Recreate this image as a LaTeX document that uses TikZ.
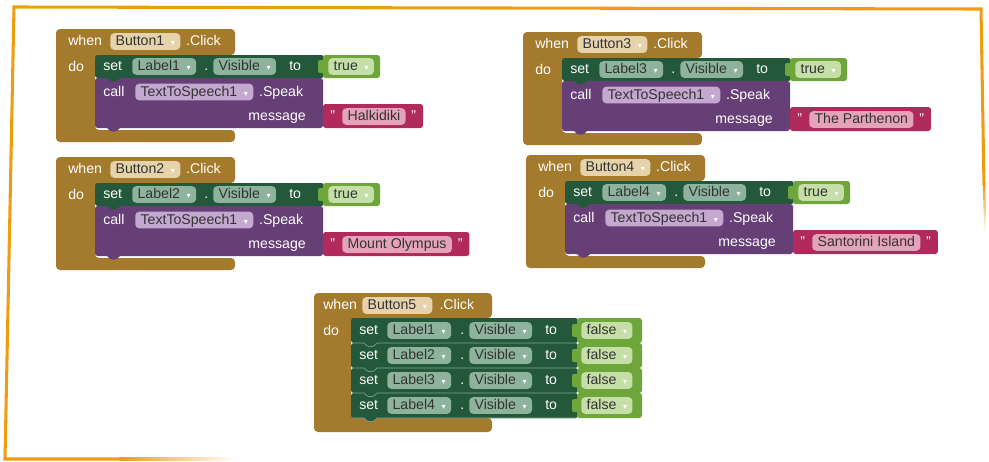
\documentclass[tikz,border=0pt]{standalone}
\usepackage{fontspec}
\setmainfont{Liberation Sans}
\newfontfamily\symfont{DejaVu Sans}
\usetikzlibrary{positioning,backgrounds}

\definecolor{evtbrown}{HTML}{A47A2C}
\definecolor{setgreen}{HTML}{23593A}
\definecolor{logicgreen}{HTML}{6FA63C}
\definecolor{callpurple}{HTML}{673F77}
\definecolor{textred}{HTML}{B02A5C}
\definecolor{ddtan}{HTML}{E6D3AC}
\definecolor{ddgreen}{HTML}{8EB39D}
\definecolor{ddlight}{HTML}{C6DFA9}
\definecolor{ddpurple}{HTML}{C4A8D0}
\definecolor{ddpink}{HTML}{E4A3B8}
\definecolor{frameor}{HTML}{EE9C12}

\newcommand\blockfont{\fontsize{10.6}{12}\selectfont}
\newcommand\ddarrow{\hspace{5pt}{\symfont\fontsize{6}{6}\selectfont\color{white}▾}}

\tikzset{
  wtxt/.style={text=white, font=\blockfont, inner sep=0pt, anchor=west,
    text height=7.6pt, text depth=1pt},
  dd/.style={rounded corners=3pt, inner ysep=0pt, inner xsep=4pt, anchor=west,
    minimum height=12.5pt, text height=7.6pt, text depth=1pt,
    text=black!80, font=\blockfont},
}

\begin{document}
\begin{tikzpicture}[x=0.75pt,y=-0.75pt]
\useasboundingbox (0,0) rectangle (989,461);

%frame
\draw[frameor, line width=2.3pt] (120,459) -- (5,459) -- (14,7) -- (981,9) -- (984,185);
\shade[left color=frameor, right color=white] (119,457.5) rectangle (235,460.5);
\shade[top color=frameor, bottom color=white] (982.8,184) -- (985.2,184) -- (986.5,232) -- (984.1,232) -- cycle;

%speak blocks
\foreach \bx/\by/\n/\msg in {56/29/1/Halkidiki,56/157/2/Mount Olympus,523/32/3/The Parthenon,526/155/4/Santorini Island}{
\begin{scope}[shift={(\bx,\by)}]
\fill[evtbrown, rounded corners=3pt] (0,0) -- (179,0) -- (179,26) -- (39,26) -- (39,101) -- (179,101) -- (179,113) -- (0,113) -- cycle;
\node[wtxt] (when\n) at (12,12.5) {when};
\node[dd, fill=ddtan] (btn\n) at (54,12.5) {Button\n\ddarrow};
\node[wtxt, right=4pt of btn\n] (clk\n) {.Click};
\node[wtxt] (do\n) at (12,38) {do};
%set row
\fill[setgreen, rounded corners=2pt] (39,26) rectangle (268,49);
\fill[logicgreen, rounded corners=2pt] (267,26) rectangle (324,49);
\fill[logicgreen, rounded corners=1.5pt] (262,31) rectangle (269,44);
\node[wtxt] (set\n) at (47,37.5) {set};
\node[dd, fill=ddgreen] (lbl\n) at (76,37.5) {Label\n\ddarrow};
\node[wtxt] (dot\n) at (148,37.5) {.};
\node[dd, fill=ddgreen] (vis\n) at (157,37.5) {Visible\ddarrow};
\node[wtxt] (to\n) at (233,37.5) {to};
\node[dd, fill=ddlight] (val\n) at (272,37.5) {true\ddarrow};
%call row
\fill[callpurple, rounded corners=2pt] (39,49) rectangle (267,99);
\fill[callpurple] (51,98) -- (51,99) .. controls (54,104) and (61,104) .. (64,99) -- (64,98) -- cycle;
\fill[setgreen] (51,48) -- (51,49) .. controls (54,54) and (61,54) .. (64,49) -- (64,48) -- cycle;
\node[wtxt] (call\n) at (47,63) {call};
\node[dd, fill=ddpurple] (tts\n) at (79,63) {TextToSpeech1\ddarrow};
\node[wtxt, right=4pt of tts\n] (spk\n) {.Speak};
\node[wtxt, anchor=east] (msgl\n) at (250,87.5) {message};
\node[wtxt] (q1\n) at (274,87) {"};
\node[dd, fill=ddpink] (msg\n) at (286,87.5) {\msg};
\node[wtxt, right=4pt of msg\n] (q2\n) {"};
\begin{pgfonlayer}{background}
\fill[textred, rounded corners=2pt] (267,75) rectangle ([xshift=5pt]q2\n.east |- 0,99);
\fill[textred, rounded corners=1.5pt] (262,80) rectangle (269,94);
\end{pgfonlayer}
\end{scope}
}

%Button5
\begin{scope}[shift={(314,293)}]
\fill[evtbrown, rounded corners=3pt] (0,0) -- (178,0) -- (178,25) -- (37,25) -- (37,125) -- (178,125) -- (178,139) -- (0,139) -- cycle;
\node[wtxt] (when5) at (9,12.5) {when};
\node[dd, fill=ddtan] (btn5) at (48,12.5) {Button5\ddarrow};
\node[wtxt, right=5pt of btn5] (clk5) {.Click};
\node[wtxt] (do5) at (9,38) {do};
\foreach \r/\ty in {1/25,2/50,3/75,4/100}{
  \fill[setgreen, rounded corners=2pt] (37,\ty) rectangle (264,\ty+25);
  \fill[logicgreen, rounded corners=2pt] (263,\ty) rectangle (328,\ty+25);
  \fill[logicgreen, rounded corners=1.5pt] (258,\ty+6) rectangle (265,\ty+19);
  \node[wtxt] (set5\r) at (45,\ty+12.5) {set};
  \node[dd, fill=ddgreen] (lbl5\r) at (73,\ty+12.5) {Label\r\ddarrow};
  \node[wtxt] (dot5\r) at (146,\ty+12.5) {.};
  \node[dd, fill=ddgreen] (vis5\r) at (155,\ty+12.5) {Visible\ddarrow};
  \node[wtxt] (to5\r) at (231,\ty+12.5) {to};
  \node[dd, fill=ddlight] (val5\r) at (267,\ty+12.5) {false\ddarrow};
}
%notches
\foreach \ty in {50,75,100,125}{
  \fill[setgreen] (50,\ty-1) -- (50,\ty) .. controls (53,\ty+5) and (60,\ty+5) .. (63,\ty) -- (63,\ty-1) -- cycle;
  \draw[setgreen!55!white, line width=0.5pt] (38,\ty) -- (50,\ty) .. controls (53,\ty+5) and (60,\ty+5) .. (63,\ty) -- (262,\ty);
}
\end{scope}
\end{tikzpicture}
\end{document}
